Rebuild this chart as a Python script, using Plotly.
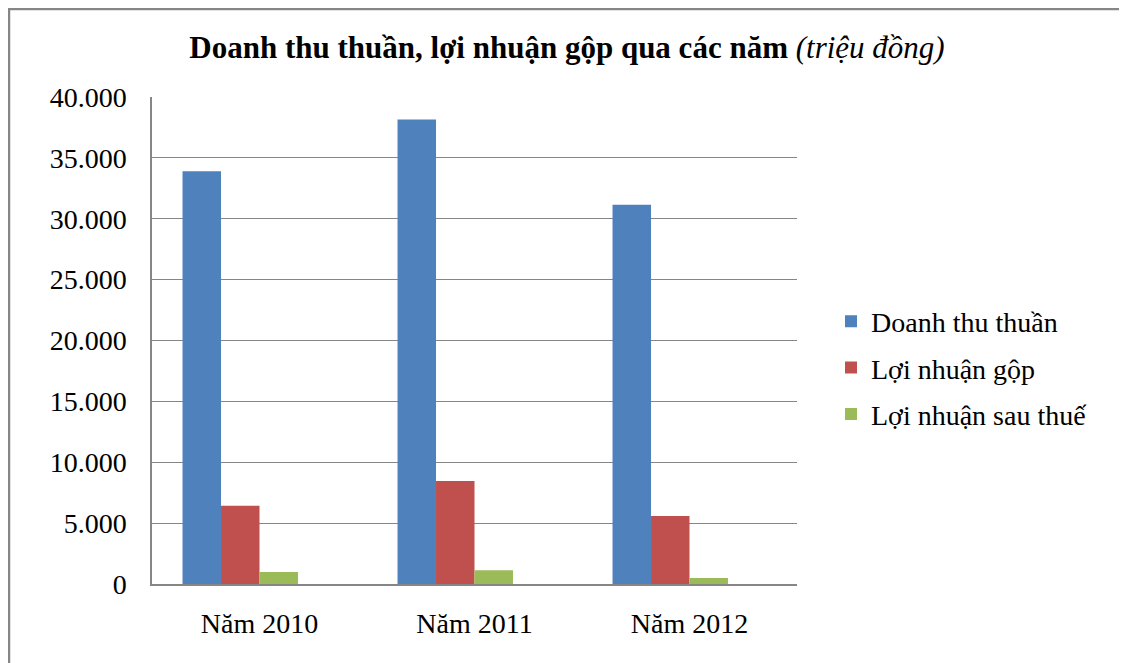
import plotly.graph_objects as go

categories = ["Năm 2010", "Năm 2011", "Năm 2012"]
doanh_thu_thuan = [33900, 38150, 31150]
loi_nhuan_gop = [6420, 8460, 5580]
loi_nhuan_sau_thue = [990, 1130, 500]
series_names = ["Doanh thu thuần", "Lợi nhuận gộp", "Lợi nhuận sau thuế"]
colors = ["#4F81BD", "#C0504D", "#9BBB59"]
y_ticks = [0, 5000, 10000, 15000, 20000, 25000, 30000, 35000, 40000]

FONT = "Liberation Serif, Times New Roman, serif"

fig = go.Figure()
for i, (name, vals, col) in enumerate(zip(series_names, [doanh_thu_thuan, loi_nhuan_gop, loi_nhuan_sau_thue], colors)):
    fig.add_trace(go.Bar(x=categories, y=vals, name=name, legendgroup=f"g{i}",
                         marker=dict(color=col, line=dict(width=0))))
# empty fourth slot (as in the original spreadsheet chart)
fig.add_trace(go.Bar(x=categories, y=[None, None, None], showlegend=False, hoverinfo="skip"))

OFF = 8  # page body margin
W, H = 1127, 663
L, R, T, B = 152 - OFF, W + OFF - 797, 97 - OFF, 79 + OFF
pw, ph = W - L - R, H - T - B

def px(x):
    return (x - OFF - L) / pw

def py(y):
    return (H - B - (y - OFF)) / ph

fig.update_layout(
    width=W, height=H,
    margin=dict(l=L, r=R, t=T, b=B),
    paper_bgcolor="white", plot_bgcolor="white",
    barmode="group", bargap=0.284, bargroupgap=0,
    separators=",.",
    font=dict(family=FONT, color="black", size=28),
    title=dict(
        text="<b>Doanh thu thuần, lợi nhuận gộp qua các năm</b> <i>(triệu đồng)</i>",
        x=(567 - OFF) / W, xref="container", xanchor="center",
        y=1 - (47 - OFF) / H, yref="container", yanchor="middle",
        font=dict(family=FONT, size=31, color="black"),
    ),
    legend=dict(
        x=px(831), xanchor="left", y=py(368), yanchor="middle",
        font=dict(family=FONT, size=28, color="black"),
        bgcolor="rgba(0,0,0,0)", itemclick=False,
        traceorder="grouped", tracegroupgap=7,
    ),
    xaxis=dict(
        showline=True, linecolor="#868686", linewidth=1.5,
        showgrid=False, ticks="", ticklabelstandoff=14,
        tickfont=dict(family=FONT, size=28),
    ),
    yaxis=dict(
        range=[0, 40000], tickvals=y_ticks, tickformat=",.0f",
        showgrid=True, gridcolor="#868686", gridwidth=1,
        showline=True, linecolor="#868686", linewidth=1.5,
        ticks="", ticklabelstandoff=18, zeroline=False,
        tickfont=dict(family=FONT, size=28),
    ),
    shapes=[
        dict(type="rect", xref="paper", yref="paper",
             x0=px(OFF + 1), x1=px(1200), y0=py(700), y1=py(OFF + 1),
             line=dict(color="#868686", width=2.5), fillcolor="rgba(0,0,0,0)", layer="below"),
    ],
)

fig.write_html("out.html")
